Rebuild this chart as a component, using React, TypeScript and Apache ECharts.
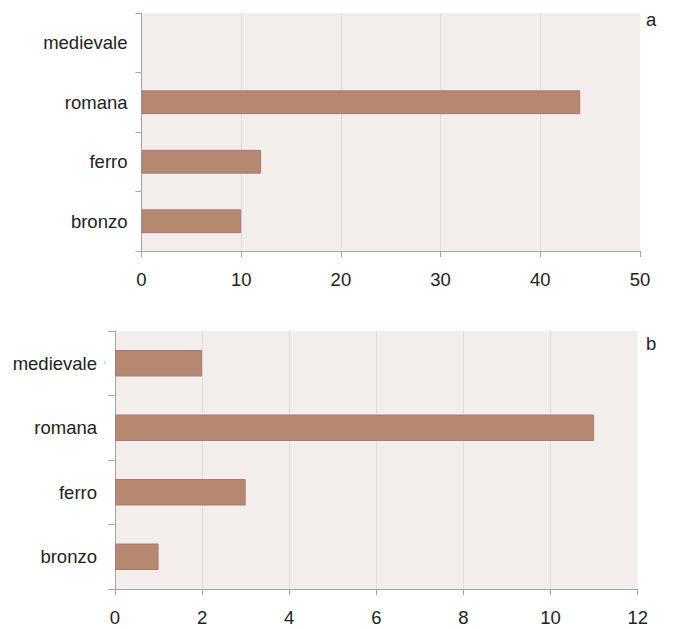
import React, { useEffect, useRef } from "react";
import * as echarts from "echarts";

const categories = ["bronzo", "ferro", "romana", "medievale"];
const valuesA = [10, 12, 44, 0];
const valuesB = [1, 3, 11, 2];
const ticksA = [0, 10, 20, 30, 40, 50];
const ticksB = [0, 2, 4, 6, 8, 10, 12];
const panelLabels = ["a", "b"];

const FONT = "'Liberation Sans', Arial, Helvetica, sans-serif";
const FS = 18.5;
const AXIS = "#a3a3a3";
const GRIDLINE = "#e2dbd9";
const BG = "#f3edeb";
const BAR = "#b5886f";
const BAR_BORDER = "#a57b7e";

function splitColors(n: number) {
  const arr: string[] = [];
  for (let i = 0; i < n; i++) arr.push(i === 0 || i === n - 1 ? "rgba(0,0,0,0)" : GRIDLINE);
  return arr;
}

function barData(values: number[]) {
  return values.map((v) =>
    v === 0 ? { value: v, itemStyle: { borderWidth: 0, opacity: 0 } } : { value: v }
  );
}

export default function App() {
  const ref = useRef<HTMLDivElement>(null);
  useEffect(() => {
    if (!ref.current) return;
    const chart = echarts.init(ref.current, undefined, { renderer: "svg" });
    const xAxisCommon = (idx: number, ticks: number[]) => ({
      type: "value" as const,
      gridIndex: idx,
      min: ticks[0],
      max: ticks[ticks.length - 1],
      interval: ticks[1] - ticks[0],
      axisLine: { show: true, lineStyle: { color: AXIS, width: 1 } },
      axisTick: { show: true, length: 6, lineStyle: { color: AXIS } },
      axisLabel: { color: "#222", fontSize: FS, fontFamily: FONT, margin: 19 },
      splitLine: { show: true, lineStyle: { color: splitColors(ticks.length), width: 1 } },
    });
    const yAxisCommon = (idx: number, margin: number, tickLen: number) => ({
      type: "category" as const,
      gridIndex: idx,
      data: categories,
      axisLine: { show: true, lineStyle: { color: AXIS, width: 1 } },
      axisTick: { show: true, length: tickLen, lineStyle: { color: AXIS } },
      axisLabel: { color: "#222", fontSize: FS, fontFamily: FONT, margin },
      splitLine: { show: false },
    });
    const barStyle = { color: BAR, borderColor: BAR_BORDER, borderWidth: 1 };
    chart.setOption({
      animation: false,
      grid: [
        { left: 141.5, top: 13, width: 498.5, height: 238, show: true, backgroundColor: BG, borderWidth: 0 },
        { left: 115, top: 331, width: 522.7, height: 258, show: true, backgroundColor: BG, borderWidth: 0 },
      ],
      xAxis: [xAxisCommon(0, ticksA), xAxisCommon(1, ticksB)],
      yAxis: [yAxisCommon(0, 14, 6), yAxisCommon(1, 18, 7)],
      series: [
        { type: "bar", xAxisIndex: 0, yAxisIndex: 0, data: barData(valuesA), barWidth: "40%", itemStyle: barStyle },
        { type: "bar", xAxisIndex: 1, yAxisIndex: 1, data: barData(valuesB), barWidth: "41%", itemStyle: barStyle },
      ],
      graphic: [
        {
          type: "text",
          left: 646,
          top: 10,
          style: { text: panelLabels[0], fontSize: FS, fontFamily: FONT, fill: "#222" },
        },
        {
          type: "text",
          left: 646,
          top: 334,
          style: { text: panelLabels[1], fontSize: FS, fontFamily: FONT, fill: "#222" },
        },
        {
          type: "rect",
          shape: { x: 104.5, y: 361, width: 1, height: 3.5 },
          style: { fill: "#c4c4c4" },
        },
      ],
    });
    return () => chart.dispose();
  }, []);
  return (
    <div
      ref={ref}
      style={{ position: "fixed", left: 0, top: 0, width: 675, height: 629, background: "#fff" }}
    />
  );
}
